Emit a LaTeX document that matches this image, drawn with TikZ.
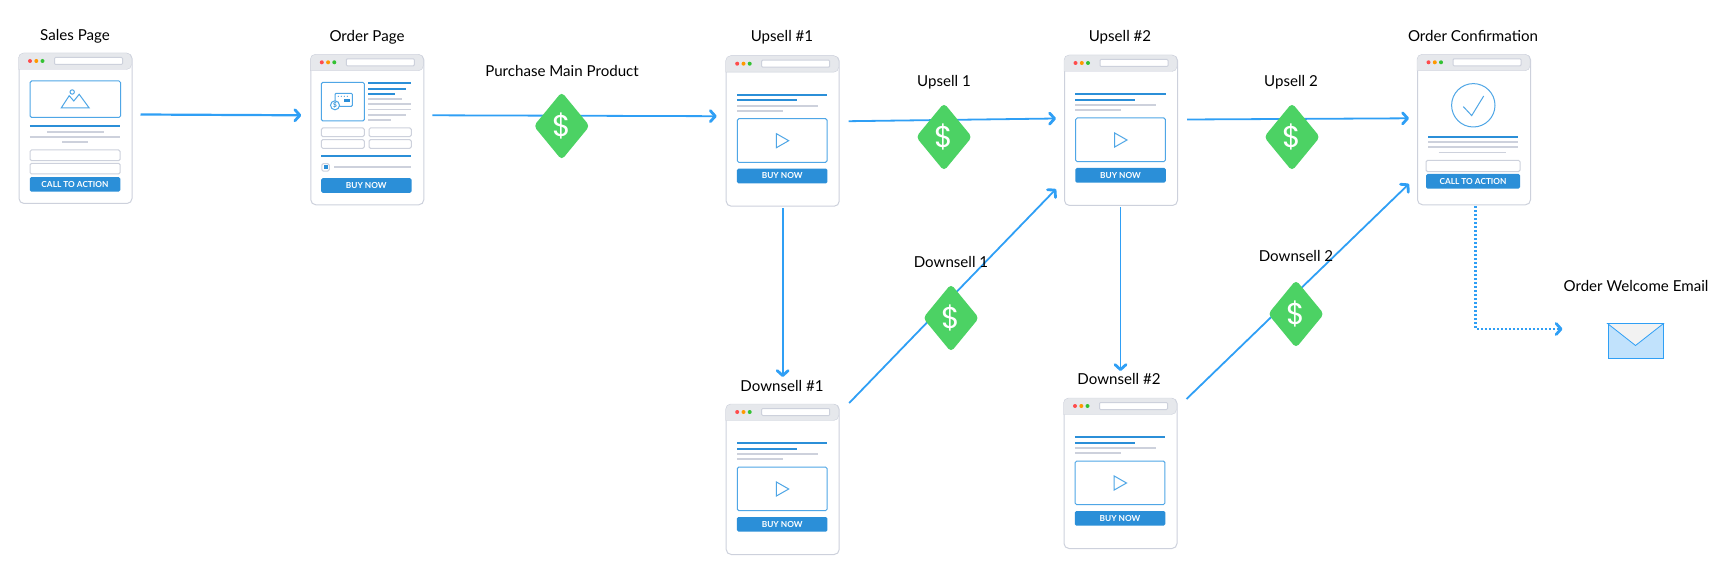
\documentclass[tikz,border=0pt]{standalone}
\usepackage{fontspec}
\setmainfont{Lato}
\newfontfamily\moneyFont{Poppins}
\usepackage{xcolor}
\usetikzlibrary{arrows.meta}
\usetikzlibrary{shapes.geometric}
\definecolor{flowBlue}{HTML}{2F9FF5}
\definecolor{inkBlue}{HTML}{2B8FD8}
\definecolor{boxBlue}{HTML}{4FA6E6}
\definecolor{pageLine}{HTML}{CDD1DC}
\definecolor{chromeGray}{HTML}{E6E8EC}
\definecolor{moneyGreen}{HTML}{4CD264}

\newcommand{\browserPage}[3]{
    \node (#1) [pageBox, anchor=north west] at (#2,#3) {};
    \begin{scope}[shift={(#1.north west)}]
        \draw[fill=chromeGray, draw=pageLine, rounded corners=5pt] (0,16.5) -- (0,0) -- (113,0) -- (113,16.5) [sharp corners] -- cycle;
        \fill[red!70!white] (11.5,8) circle (2);
        \fill[orange!80!yellow] (17.8,8) circle (2);
        \fill[green!70!black!80!white] (24,8) circle (2);
        \draw[fieldBox, rounded corners=1pt] (36,4.5) rectangle (104,11.5);
    \end{scope}
}
\newcommand{\videoPage}[3]{
    \browserPage{#1}{#2}{#3}
    \begin{scope}[shift={(#1.north west)}]
        \foreach \xEnd/\yLine in {101.7/39.3, 71.3/44.7}
            \draw[barBlue] (11.3,\yLine) -- (\xEnd,\yLine);
        \foreach \xEnd/\yLine in {92/50, 57.3/55.3}
            \draw[barGray] (11.3,\yLine) -- (\xEnd,\yLine);
        \draw[iconLine, rounded corners=1.5pt] (11.7,63) rectangle (101.3,106.7);
        \draw[iconLine] (50.7,78) -- (50.7,92) -- (63,85) -- cycle;
        \node (#1Button) [buttonBox, minimum width=90.5pt] at (56.5,120.3) {BUY NOW};
    \end{scope}
}

\begin{document}
\begin{tikzpicture}[x=1pt, y=-1pt,
    pageBox/.style={draw=pageLine, fill=white, line width=1pt, rounded corners=5pt, minimum width=113pt, minimum height=150pt, inner sep=0pt},
    fieldBox/.style={draw=pageLine, fill=white, line width=1pt, rounded corners=1.5pt},
    barBlue/.style={draw=inkBlue, line width=2pt},
    barGray/.style={draw=pageLine, line width=1.8pt},
    iconLine/.style={draw=boxBlue, line width=1pt},
    buttonBox/.style={fill=inkBlue, rounded corners=1.5pt, text=white, minimum height=14.6pt, inner sep=0pt, font=\fontsize{8.3}{9}\selectfont\bfseries},
    stepLabel/.style={font=\fontsize{15.1}{17}\selectfont, inner sep=0pt},
    flow/.style={draw=flowBlue, line width=1.8pt, -{Straight Barb[length=5pt,width=11pt,line width=2.8pt,round]}},
    moneyTag/.style={diamond, fill=moneyGreen, rounded corners=4pt, minimum width=56pt, minimum height=68pt, aspect=0.82, inner sep=0pt, text=white, font=\fontsize{30}{30}\selectfont\moneyFont}]
    \useasboundingbox (0,0) rectangle (1722,569);

    % sales page
    \browserPage{salesPage}{18.5}{53}
    \begin{scope}[shift={(salesPage.north west)}]
        \draw[iconLine, rounded corners=1.5pt] (11.7,28) rectangle (102,64.5);
        \draw[iconLine] (42.7,55) -- (50.7,42.7) -- (55.3,48) -- (60.7,41.3) -- (70.7,55) -- cycle;
        \draw[iconLine, fill=white] (53.7,39) circle (2.2);
        \draw[barBlue] (11.3,73.3) -- (101.7,73.3);
        \foreach \xStart/\xEnd/\yLine in {28.3/85/78.7, 11.3/101.7/83.7, 43.7/69.3/89}
            \draw[barGray] (\xStart,\yLine) -- (\xEnd,\yLine);
        \draw[fieldBox] (11.5,97) rectangle (101.7,107.7);
        \draw[fieldBox] (11.5,110.3) rectangle (101.7,121);
        \node (salesButton) [buttonBox, minimum width=90.5pt] at (56.5,131.4) {CALL TO ACTION};
    \end{scope}

    % order page
    \browserPage{orderPage}{310.3}{54.3}
    \begin{scope}[shift={(orderPage.north west)}]
        \draw[iconLine, rounded corners=1.5pt] (11,28) rectangle (54,66.7);
        \draw[iconLine, rounded corners=1pt] (24.7,39) rectangle (42,52);
        \foreach \xDot in {28,31,34,37}
            \fill[inkBlue] (\xDot,42) circle (0.6);
        \fill[inkBlue] (34,45) rectangle (39.5,47.5);
        \draw[iconLine, fill=white] (24.7,51) circle (4.5);
        \node (orderCoin) [text=inkBlue, inner sep=0pt, font=\fontsize{6.5}{7}\selectfont\bfseries] at (24.7,51) {\$};
        \draw[barBlue] (11,101.3) -- (101,101.3);
        \foreach \xEnd/\yLine in {101/29, 96/34.3, 84.7/39.7}
            \draw[barBlue] (58,\yLine) -- (\xEnd,\yLine);
        \foreach \xEnd/\yLine in {92/44.7, 101/50, 101/55.3, 96/60.7, 80.3/65.7}
            \draw[barGray] (58,\yLine) -- (\xEnd,\yLine);
        \foreach \xStart/\xEnd in {11/54, 58.7/101}{
            \draw[fieldBox] (\xStart,73.7) rectangle (\xEnd,82.3);
            \draw[fieldBox] (\xStart,85.3) rectangle (\xEnd,94);
        }
        \draw[fieldBox] (11.5,109.3) rectangle (19,116.8);
        \fill[inkBlue] (13.3,111) rectangle (17.3,115);
        \draw[barGray] (23.7,113) -- (101,113);
        \node (orderButton) [buttonBox, minimum width=90.5pt] at (56,131.2) {BUY NOW};
    \end{scope}

    \videoPage{upsellOne}{725.7}{55.7}
    \videoPage{upsellTwo}{1064}{55}
    \videoPage{downsellOne}{725.7}{404}
    \videoPage{downsellTwo}{1063.5}{398}

    % confirmation page
    \browserPage{confirmPage}{1417}{54.3}
    \begin{scope}[shift={(confirmPage.north west)}]
        \draw[iconLine] (56.3,51) circle (21.7);
        \draw[iconLine] (46.3,52.3) -- (54.7,61.3) -- (66.7,41.7);
        \draw[barBlue] (11,82.7) -- (101,82.7);
        \foreach \xStart/\xEnd/\yLine in {11/101/87.7, 11/101/93, 21.7/89/98.3}
            \draw[barGray] (\xStart,\yLine) -- (\xEnd,\yLine);
        \draw[fieldBox] (9,106) rectangle (103,117.3);
        \node (confirmButton) [buttonBox, minimum width=94pt] at (56,127) {CALL TO ACTION};
    \end{scope}

    % email icon
    \node (emailIcon) [draw=flowBlue, fill=flowBlue!30!white, line width=1pt, minimum width=55pt, minimum height=35pt, inner sep=0pt] at (1635.5,341.5) {};
    \draw[draw=flowBlue, fill=gray!10, line width=0.8pt] (emailIcon.north west) -- ([yshift=-22pt]emailIcon.north) -- (emailIcon.north east) -- cycle;

    % connectors
    \draw[flow, line width=2.2pt] ([xshift=8pt,yshift=14pt]salesPage.east) -- ([xshift=-9pt,yshift=14.5pt]orderPage.west);
    \draw[flow] ([xshift=8pt,yshift=14.5pt]orderPage.east) -- ([xshift=-9pt,yshift=15pt]upsellOne.west);
    \draw[flow] ([xshift=9pt,yshift=10pt]upsellOne.east) -- ([xshift=-8pt,yshift=12pt]upsellTwo.west);
    \draw[flow] ([xshift=9pt,yshift=11pt]upsellTwo.east) -- ([xshift=-8pt,yshift=11.5pt]confirmPage.west);
    \draw[flow] ([yshift=-1.5pt]upsellOne.south) -- ([yshift=27pt]downsellOne.north);
    \draw[flow] ([xshift=-0.5pt,yshift=-1.5pt]upsellTwo.south) -- ([yshift=27pt,xshift=0pt]downsellTwo.north);
    \draw[flow] ([xshift=9.5pt,yshift=1pt]downsellOne.north east) -- ([xshift=-8pt,yshift=17pt]upsellTwo.south west);
    \draw[flow] ([xshift=9pt,yshift=-1pt]downsellTwo.north east) -- ([xshift=-8pt,yshift=21.5pt]confirmPage.south west);
    \draw[flow, dash pattern=on 2pt off 2pt, line width=2.2pt] ([xshift=1.5pt,yshift=-1pt]confirmPage.south) |- ([xshift=-45pt,yshift=12.5pt]emailIcon.west);

    % purchase tags
    \node (tagMain) [moneyTag] at (561.7,126) {\$};
    \node (tagUpsellOne) [moneyTag] at (944,137) {\$};
    \node (tagUpsellTwo) [moneyTag] at (1292,137) {\$};
    \node (tagDownsellOne) [moneyTag] at (951,318) {\$};
    \node (tagDownsellTwo) [moneyTag] at (1296,314) {\$};

    % labels
    \node (labelSales) [stepLabel] at (75,36.5) {Sales Page};
    \node (labelOrder) [stepLabel] at (367,37.5) {Order Page};
    \node (labelMain) [stepLabel] at (562,71) {Purchase Main Product};
    \node (labelUpsellOne) [stepLabel] at (782,37) {Upsell \#1};
    \node (labelUpsellTwo) [stepLabel] at (1120,37) {Upsell \#2};
    \node (labelTagOne) [stepLabel] at (944,82) {Upsell 1};
    \node (labelTagTwo) [stepLabel] at (1291,82) {Upsell 2};
    \node (labelConfirm) [stepLabel] at (1473,36) {Order Confirmation};
    \node (labelDownTagOne) [stepLabel] at (951,262) {Downsell 1};
    \node (labelDownTagTwo) [stepLabel] at (1296,256) {Downsell 2};
    \node (labelDownsellOne) [stepLabel] at (782,386) {Downsell \#1};
    \node (labelDownsellTwo) [stepLabel] at (1119,379) {Downsell \#2};
    \node (labelEmail) [stepLabel] at (1636,286) {Order Welcome Email};
\end{tikzpicture}
\end{document}
